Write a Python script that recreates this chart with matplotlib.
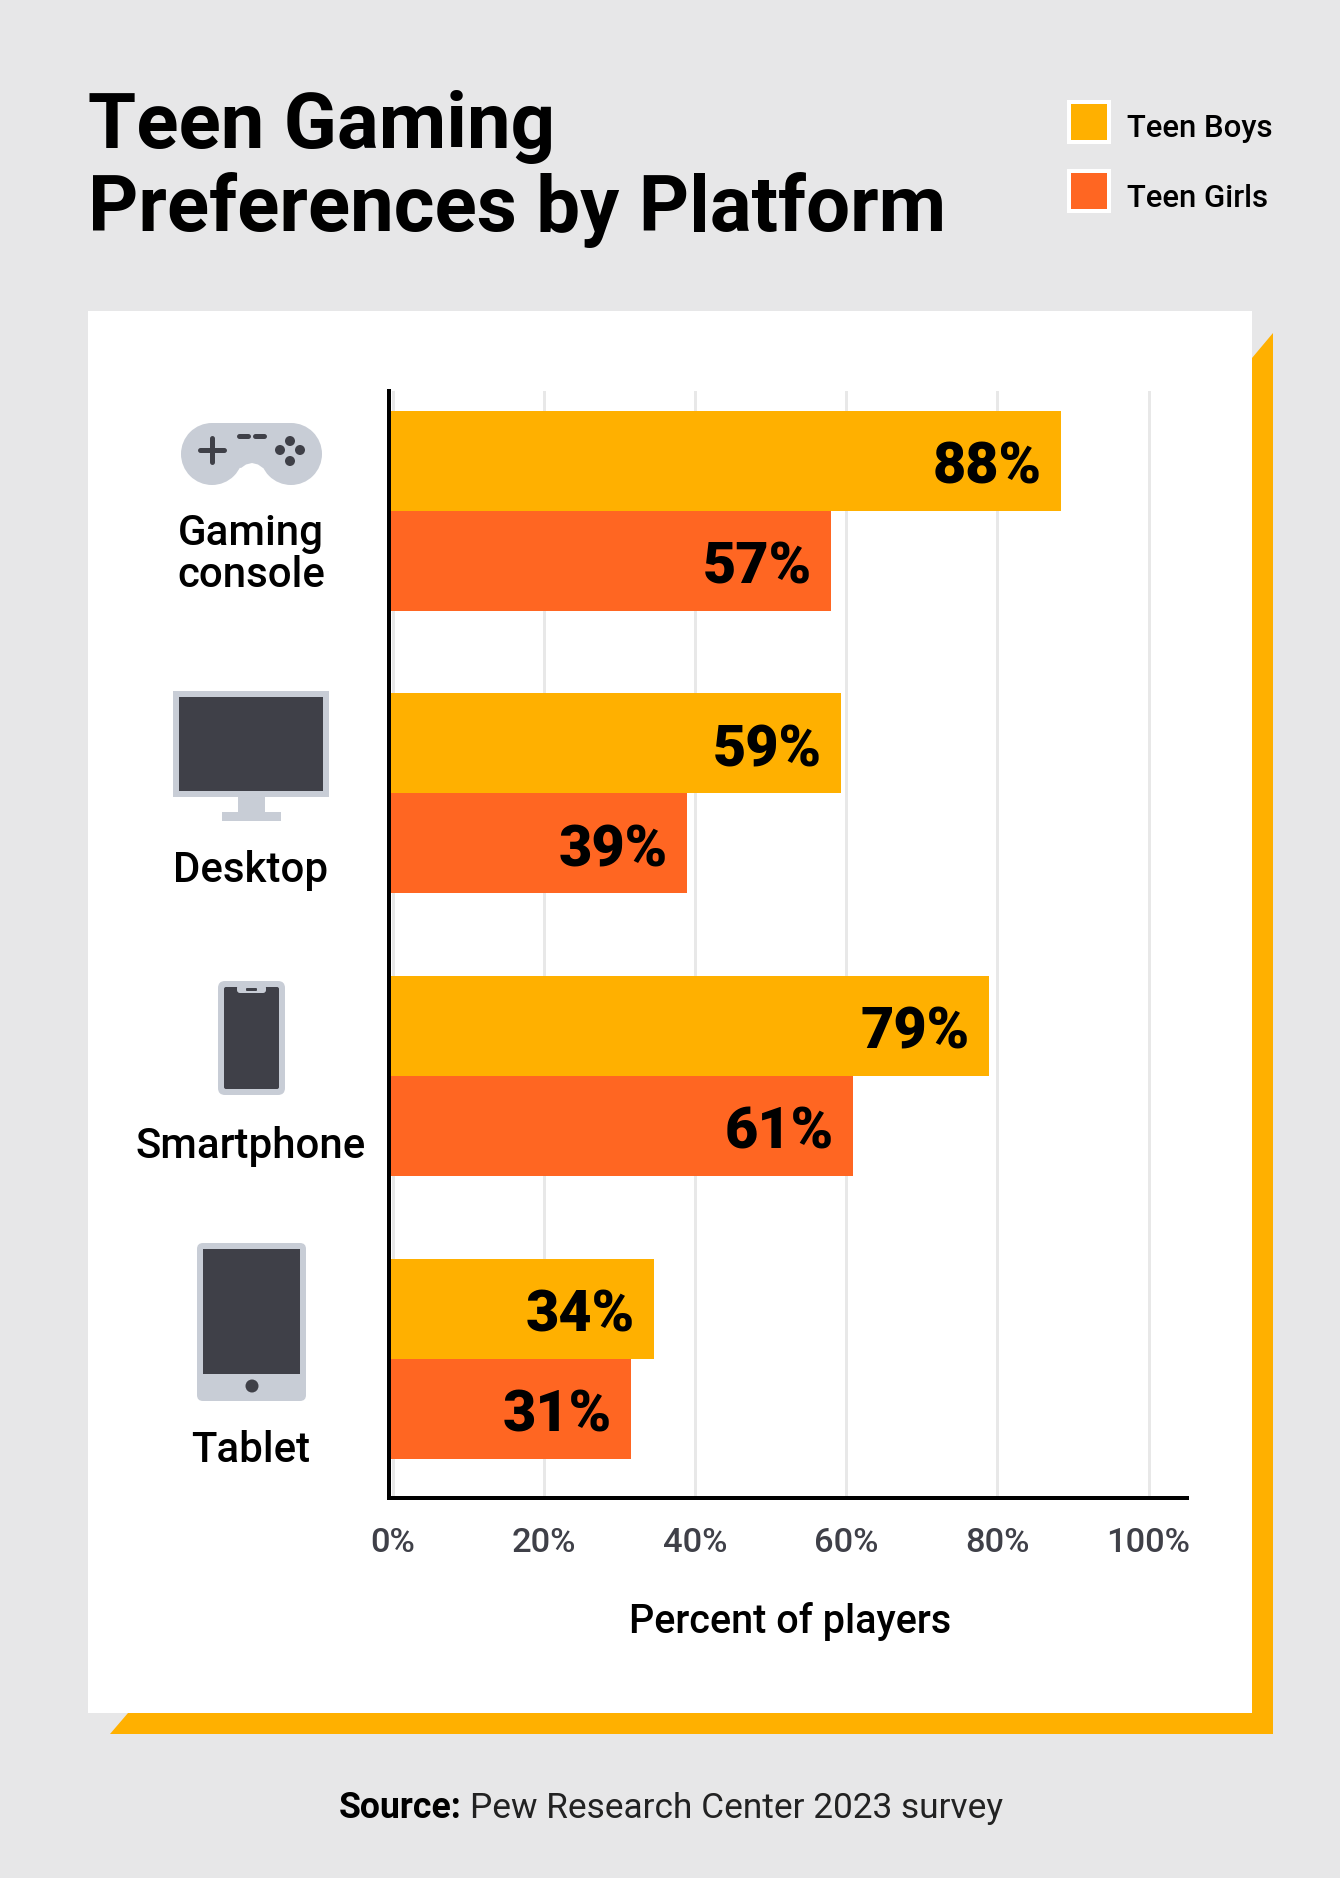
import matplotlib
matplotlib.use('Agg')
import matplotlib.pyplot as plt
from matplotlib.patches import Rectangle, Polygon, Circle, FancyBboxPatch

categories = ['Gaming\nconsole', 'Desktop', 'Smartphone', 'Tablet']
boys_bars = [88.4, 59.3, 78.9, 34.5]
girls_bars = [58.0, 38.9, 60.9, 31.5]
boys_labels = ['88%', '59%', '79%', '34%']
girls_labels = ['57%', '39%', '61%', '31%']
ticks = [0, 20, 40, 60, 80, 100]
tick_labels = ['0%', '20%', '40%', '60%', '80%', '100%']

BG = '#E7E7E8'
ORANGE = '#FFB000'
RED = '#FF6622'
GREY = '#C8CDD6'
DARK = '#3F4048'
W, H = 1340, 1878

def pt(px):
    return px * 0.72

plt.rcParams['font.family'] = ['Roboto', 'DejaVu Sans']

fig = plt.figure(figsize=(W / 100, H / 100), dpi=100, facecolor=BG)

# overlay in pixel coords for card, icons, legend, text
bg = fig.add_axes([0, 0, 1, 1], zorder=0)
bg.set_xlim(0, W)
bg.set_ylim(H, 0)
bg.axis('off')

# orange corner behind the card
bg.add_patch(Polygon([(1273, 333), (1273, 1734), (110, 1734), (128, 1713), (1252, 1713), (1252, 358)],
                     fc=ORANGE, ec='none'))
bg.add_patch(Rectangle((88, 311), 1164, 1402, fc='white', ec='none'))

# chart, the zero of the scale sits a little right of the axis line
x0, x1, y0, y1 = 389, 1187, 391, 1498
px_per_pct = 7.555
xleft = -(393 - x0) / px_per_pct
ax = fig.add_axes([x0 / W, 1 - y1 / H, (x1 - x0) / W, (y1 - y0) / H], zorder=1)
ax.patch.set_alpha(0)
ax.set_xlim(xleft, xleft + (x1 - x0) / px_per_pct)
unit = 282.7
ax.set_ylim((y1 - 510.5) / unit, (y0 - 510.5) / unit)
h = 100 / unit
ypos = list(range(len(categories)))
ax.barh([y - h / 2 for y in ypos], [v - xleft for v in boys_bars], left=xleft, height=h, color=ORANGE, zorder=3)
ax.barh([y + h / 2 for y in ypos], [v - xleft for v in girls_bars], left=xleft, height=h, color=RED, zorder=3)

for y, v, s in zip(ypos, boys_bars, boys_labels):
    ax.annotate(s, (v, y - h / 2), xytext=(pt(-19), pt(-23)), textcoords='offset points',
                ha='right', va='baseline', fontsize=pt(57.5), fontweight=900, color='black', zorder=4)
for y, v, s in zip(ypos, girls_bars, girls_labels):
    ax.annotate(s, (v, y + h / 2), xytext=(pt(-19), pt(-23)), textcoords='offset points',
                ha='right', va='baseline', fontsize=pt(57.5), fontweight=900, color='black', zorder=4)

ax.set_xticks(ticks)
ax.set_xticklabels(tick_labels, fontsize=pt(34.5), fontweight=500, color=DARK)
ax.set_yticks([])
ax.tick_params(axis='x', length=0, pad=pt(29))
ax.xaxis.grid(True, color='#E8E8E8', lw=pt(3), zorder=1)
ax.set_axisbelow(True)
for s in ['top', 'right']:
    ax.spines[s].set_visible(False)
for s in ['left', 'bottom']:
    ax.spines[s].set_linewidth(pt(4))
    ax.spines[s].set_color('black')
    ax.spines[s].set_zorder(5)

# title
bg.text(88, 148, 'Teen Gaming', fontsize=pt(78), fontweight='bold', color='black', va='baseline')
bg.text(88, 231, 'Preferences by Platform', fontsize=pt(78), fontweight='bold', color='black', va='baseline')

# legend
for top, col, name, ty in [(100, ORANGE, 'Teen Boys', 137), (169, RED, 'Teen Girls', 207)]:
    bg.add_patch(Rectangle((1067, top), 44, 44, fc='white', ec='none'))
    bg.add_patch(Rectangle((1071, top + 4), 36, 36, fc=col, ec='none'))
    bg.text(1127, ty, name, fontsize=pt(31.2), fontweight=500, color='black', va='baseline')

# category labels
lab = dict(fontsize=pt(42), fontweight=500, color='black', ha='center', va='baseline')
bg.text(251, 545, 'Gaming', **lab)
bg.text(251, 587, 'console', **lab)
bg.text(251, 882, categories[1], **lab)
bg.text(251, 1158, categories[2], **lab)
bg.text(251, 1462, categories[3], **lab)

# controller icon
bg.add_patch(Circle((212, 454), 31, fc=GREY, ec='none'))
bg.add_patch(Circle((291, 454), 31, fc=GREY, ec='none'))
bg.add_patch(Polygon([(212, 423), (291, 423), (322, 454), (263, 468), (258, 464.5), (252, 463), (246, 464.5), (241, 468), (181, 454)],
                     fc=GREY, ec='none'))
bg.plot([200, 224], [450, 450], color=DARK, lw=pt(5), solid_capstyle='round')
bg.plot([212, 212], [438, 462], color=DARK, lw=pt(5), solid_capstyle='round')
bg.plot([239, 248], [436, 436], color=DARK, lw=pt(5), solid_capstyle='round')
bg.plot([255, 264], [436, 436], color=DARK, lw=pt(5), solid_capstyle='round')
for cx, cy in [(290, 441), (280, 450), (300, 450), (290, 461)]:
    bg.add_patch(Circle((cx, cy), 5, fc=DARK, ec='none'))

# desktop icon
bg.add_patch(Rectangle((173, 691), 156, 106, fc=GREY, ec='none'))
bg.add_patch(Rectangle((179, 697), 144, 94, fc=DARK, ec='none'))
bg.add_patch(Rectangle((238, 797), 27, 15, fc=GREY, ec='none'))
bg.add_patch(Rectangle((222, 812), 59, 9, fc=GREY, ec='none'))

def rrect(x, y, w, h, r, col):
    bg.add_patch(FancyBboxPatch((x + r, y + r), w - 2 * r, h - 2 * r, boxstyle='round,pad=%f,rounding_size=%f' % (r, r),
                                fc=col, ec='none'))

# phone icon
rrect(218, 981, 67, 114, 7, GREY)
rrect(224, 987, 55, 102, 2, DARK)
rrect(237, 985, 29, 8, 3, GREY)
rrect(246, 988, 11, 3, 1, DARK)

# tablet icon
rrect(197, 1243, 109, 158, 6, GREY)
bg.add_patch(Rectangle((203, 1249), 97, 125, fc=DARK, ec='none'))
bg.add_patch(Circle((252, 1386), 6.5, fc=DARK, ec='none'))

# axis title and source
bg.text(790, 1633, 'Percent of players', fontsize=pt(39.6), fontweight=500, color='black', ha='center', va='baseline')
bg.text(339, 1818, 'Source:', fontsize=pt(35.6), fontweight='bold', color='black', va='baseline')
bg.text(470, 1818, 'Pew Research Center 2023 survey', fontsize=pt(35.2), color='#222222', va='baseline')

fig.savefig('out.png', dpi=100, facecolor=BG)
